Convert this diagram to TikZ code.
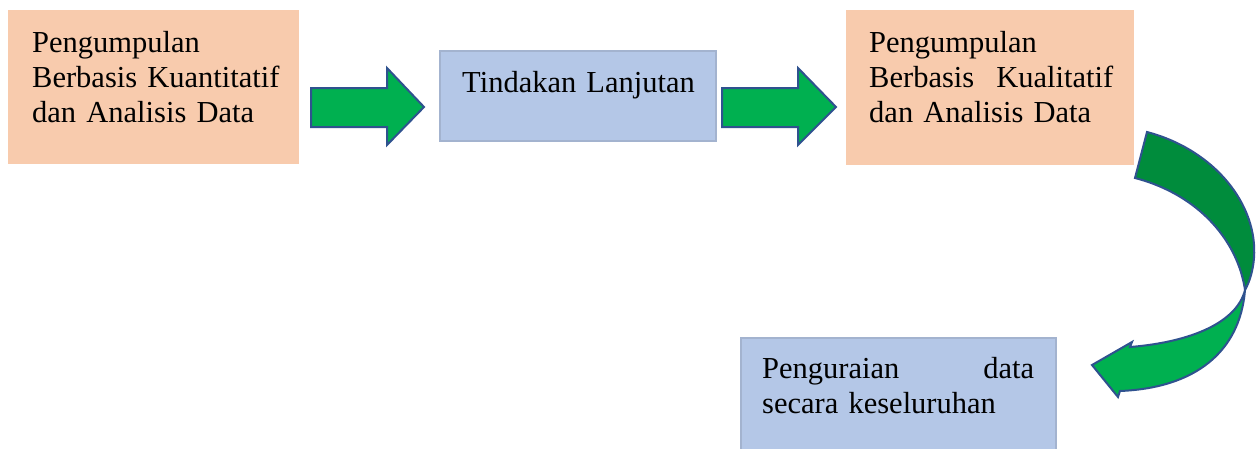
\documentclass[tikz,border=0pt]{standalone}
\usepackage{fontspec}
\setmainfont{Liberation Serif}
\definecolor{peach}{HTML}{F8CBAD}
\definecolor{lblue}{HTML}{B4C7E7}
\definecolor{bborder}{HTML}{A3B3CF}
\definecolor{agreen}{HTML}{00B050}
\definecolor{dgreen}{HTML}{008C3C}
\definecolor{aline}{HTML}{2F528F}
\begin{document}
\begin{tikzpicture}[x=1pt,y=-1pt,
  peachbox/.style={fill=peach,draw=none,inner sep=0pt,anchor=north west},
  bluebox/.style={fill=lblue,draw=bborder,line width=1.5pt,inner sep=0pt,anchor=north west},
  txt/.style={inner sep=0pt,anchor=base west,font=\fontsize{30.5}{35}\selectfont,align=left},
  blockarrow/.style={fill=agreen,draw=aline,line width=2pt,line join=miter},
  darkarrow/.style={fill=dgreen,draw=aline,line width=2pt,line join=miter}]
\useasboundingbox (0,0) rectangle (1258,448);
\fill[white] (0,0) rectangle (1258,448);
% boxes
\node[peachbox,minimum width=291pt,minimum height=154pt] (b1) at (8,10) {};
\node[bluebox,minimum width=276pt,minimum height=90pt] (b2) at (439,50) {};
\node[peachbox,minimum width=288pt,minimum height=155pt] (b3) at (846,10) {};
\node[bluebox,minimum width=315pt,minimum height=120pt] (b4) at (740,337) {};
% texts
\node[txt,text width=262pt] (t1) at (32,52) {Pengumpulan\\Berbasis Kuantitatif\\dan Analisis Data};
\node[txt,text width=240pt] (t2) at (462,92) {Tindakan Lanjutan};
\node[txt,text width=244pt] (t3) at (869,52) {Pengumpulan\\Berbasis\hfill Kualitatif\\dan Analisis Data};
\node[txt,text width=272pt] (t4) at (762,378) {Penguraian\hfill data\\secara keseluruhan};
% straight arrows
\draw[blockarrow] (311,88) -- (387,88) -- (387,68) -- (424,107) -- (387,145) -- (387,127) -- (311,127) -- cycle;
\draw[blockarrow] (722,88) -- (798,88) -- (798,68) -- (836,107) -- (798,145) -- (798,127) -- (722,127) -- cycle;
% curved arrow: lower (light) part
\draw[blockarrow] (1245,290) .. controls (1240,352) and (1195,388) .. (1120,391)
  -- (1118,397) -- (1092,365) -- (1132,342) -- (1130,347)
  .. controls (1192,342) and (1237,322) .. (1245,290) -- cycle;
% curved arrow: upper (dark) part
\draw[darkarrow] (1147,132) .. controls (1215,150) and (1258,205) .. (1254,258)
  .. controls (1253,270) and (1250,281) .. (1245,290)
  .. controls (1238,242) and (1200,195) .. (1135,178) -- cycle;
\end{tikzpicture}
\end{document}
